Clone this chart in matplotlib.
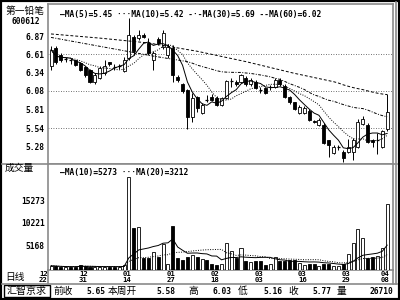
import matplotlib
matplotlib.use("Agg")
import matplotlib.pyplot as plt
import matplotlib.transforms as mtrans
import pandas as pd
from matplotlib.lines import Line2D
from matplotlib.patches import Rectangle

MONO = ['DejaVu Sans Mono', 'Noto Sans CJK SC']
CJK = ['Noto Sans CJK SC', 'DejaVu Sans']
plt.rcParams['font.family'] = MONO

# daily candles, 12/22 .. 04/08
opens = [6.43, 6.69, 6.60, 6.54, 6.53, 6.52, 6.48, 6.42, 6.38, 6.20,
         6.27, 6.33, 6.49, 6.43, 6.43, 6.37, 6.55, 6.85, 6.84, 6.89,
         6.77, 6.53, 6.82, 6.71, 6.59, 6.70, 6.28, 6.17, 6.09, 5.70,
         5.99, 5.76, 5.96, 5.99, 5.98, 5.88, 5.98, 6.21, 6.21, 6.21,
         6.27, 6.17, 6.21, 6.10, 6.12, 6.12, 6.14, 6.24, 6.15, 5.99,
         5.91, 5.76, 5.76, 5.78, 5.64, 5.59, 5.59, 5.36, 5.18, 5.25,
         5.20, 5.20, 5.20, 5.27, 5.60, 5.59, 5.37, 5.36, 5.27, 5.52]
highs = [6.72, 6.72, 6.62, 6.57, 6.55, 6.53, 6.50, 6.44, 6.40, 6.33,
         6.43, 6.53, 6.50, 6.46, 6.47, 6.56, 7.13, 6.88, 6.95, 6.91,
         6.84, 6.65, 6.85, 6.96, 6.75, 6.74, 6.30, 6.19, 6.11, 6.05,
         6.01, 5.90, 6.02, 6.03, 6.00, 5.99, 6.24, 6.27, 6.23, 6.32,
         6.29, 6.26, 6.23, 6.14, 6.14, 6.16, 6.26, 6.27, 6.17, 6.00,
         5.92, 5.87, 5.86, 5.82, 5.65, 5.69, 5.61, 5.37, 5.29, 5.30,
         5.22, 5.38, 5.40, 5.67, 5.72, 5.61, 5.38, 5.47, 5.51, 6.03]
lows = [6.38, 6.46, 6.49, 6.49, 6.47, 6.43, 6.36, 6.28, 6.19, 6.17,
        6.25, 6.30, 6.44, 6.38, 6.39, 6.35, 6.52, 6.60, 6.81, 6.84,
        6.60, 6.38, 6.74, 6.68, 6.55, 6.20, 6.20, 6.05, 5.53, 5.62,
        5.77, 5.74, 5.92, 5.93, 5.86, 5.86, 5.96, 6.14, 6.15, 6.19,
        6.15, 6.15, 6.10, 6.05, 6.03, 6.09, 6.12, 6.15, 5.97, 5.89,
        5.80, 5.74, 5.74, 5.64, 5.61, 5.57, 5.31, 5.12, 5.16, 5.22,
        5.05, 5.18, 5.08, 5.25, 5.58, 5.32, 5.27, 5.16, 5.25, 5.50]
closes = [6.67, 6.49, 6.53, 6.54, 6.52, 6.45, 6.38, 6.30, 6.21, 6.31,
          6.41, 6.43, 6.46, 6.42, 6.44, 6.53, 6.88, 6.66, 6.89, 6.86,
          6.63, 6.63, 6.77, 6.91, 6.71, 6.31, 6.24, 6.07, 5.70, 5.98,
          5.83, 5.88, 5.95, 5.95, 5.88, 5.98, 6.22, 6.22, 6.17, 6.30,
          6.17, 6.24, 6.12, 6.09, 6.05, 6.13, 6.24, 6.17, 5.99, 5.91,
          5.82, 5.85, 5.83, 5.66, 5.62, 5.66, 5.33, 5.30, 5.27, 5.26,
          5.11, 5.27, 5.37, 5.62, 5.67, 5.34, 5.34, 5.37, 5.49, 5.77]
volumes = [830, 700, 550, 550, 550, 600, 1100, 850, 600, 500,
           500, 550, 600, 550, 500, 1000, 20300, 9100, 9450, 2640,
           2640, 3740, 2860, 5600, 1300, 9500, 2640, 2000, 2860, 3100,
           2750, 2300, 2200, 1150, 1000, 1300, 5800, 4100, 2600, 4700,
           1900, 1700, 1800, 1800, 1100, 1250, 2700, 1850, 1850, 2000,
           2000, 1500, 1000, 1300, 1250, 850, 1300, 1300, 700, 700,
           1200, 3500, 5800, 8900, 7000, 2500, 2700, 2900, 4800, 14300]

# MA30 / MA60 before a full window exists
ma30_head_idx = [0, 7, 14, 21, 28]
ma30_head = [6.85, 6.76, 6.67, 6.58, 6.50]
ma60_head_idx = [0, 10, 20, 30, 40, 50, 58]
ma60_head = [6.90, 6.84, 6.77, 6.65, 6.50, 6.33, 6.21]

date_idx = [0, 7, 16, 25, 34, 43, 52, 61, 69]
date_months = ['12', '12', '01', '01', '02', '03', '03', '03', '04']
date_days = ['22', '31', '14', '27', '18', '03', '16', '29', '08']
price_ticks = [6.87, 6.61, 6.34, 6.08, 5.81, 5.54, 5.28]
grid_levels = [6.61, 6.08, 5.54]
vol_ticks = [5168, 10221, 15273]

legend_main = '—MA(5)=5.45 ···MA(10)=5.42 -·-MA(30)=5.69 --MA(60)=6.02'
legend_vol = '—MA(10)=5273 ···MA(20)=3212'
info_names = ['前收', '本周开', '高', '低', '收', '量']
info_values = ['5.65', '5.58', '6.03', '5.16', '5.77', '26710']

W, H = 400, 300


def fx(px):
    return px / W


def fy(py):
    return 1 - py / H


fig = plt.figure(figsize=(4, 3), dpi=100, facecolor='white')
ax = fig.add_axes([fx(48), fy(164), fx(393) - fx(48), fy(4) - fy(164)])
axv = fig.add_axes([fx(48), fy(270), fx(393) - fx(48), fy(164) - fy(270)], sharex=ax)

frame = '#8a8a8a'
for a in (ax, axv):
    for s in a.spines.values():
        s.set_color(frame)
        s.set_linewidth(1.2)
    a.tick_params(length=0, labelsize=5.7, pad=2.5, labelbottom=False)

n = len(closes)
bw = 0.62
for i in range(n):
    o, h, l, c = opens[i], highs[i], lows[i], closes[i]
    ax.vlines(i, l, h, color='black', lw=0.7, zorder=2)
    lo, hi = min(o, c), max(o, c)
    if hi - lo < 0.012:
        ax.hlines(c, i - bw / 2, i + bw / 2, color='black', lw=0.9, zorder=3)
    else:
        ax.add_patch(Rectangle((i - bw / 2, lo), bw, hi - lo,
                               facecolor='white' if c >= o else 'black',
                               edgecolor='black', lw=0.6, zorder=3))

cs = pd.Series(closes)
ma5 = cs.rolling(5, min_periods=1).mean()
ma10 = cs.rolling(10, min_periods=1).mean()
ma30 = cs.rolling(30).mean()
ma60 = cs.rolling(60).mean()
ax.plot(range(n), ma5, color='black', lw=0.7, zorder=4)
ax.plot(range(n), ma10, color='black', lw=0.7, ls=(0, (1, 1.5)), zorder=4)
ax.plot(ma30_head_idx + list(range(29, n)), ma30_head + list(ma30[29:]),
        color='black', lw=0.7, ls=(0, (3, 1.5, 1, 1.5)), zorder=4)
ax.plot(ma60_head_idx + list(range(59, n)), ma60_head + list(ma60[59:]),
        color='black', lw=0.7, ls=(0, (3, 2)), zorder=4)

for lvl in grid_levels:
    ax.axhline(lvl, color='#444444', lw=0.6, ls=(0, (1, 2)), zorder=1)

ax.set_xlim(-0.62, 70.2)
ax.set_ylim(5.02, 7.333)
ax.set_yticks(price_ticks)
ax.set_yticklabels(['%.2f' % t for t in price_ticks], fontweight='bold')

vcol = ['white' if closes[i] >= opens[i] else 'black' for i in range(n)]
axv.bar(range(n), volumes, width=bw, color=vcol, edgecolor='black', lw=0.6, zorder=3)
vs = pd.Series(volumes)
axv.plot(range(n), vs.rolling(10, min_periods=1).mean(), color='black', lw=0.7, zorder=4)
axv.plot(range(n), vs.rolling(20, min_periods=1).mean(), color='black', lw=0.7,
         ls=(0, (1, 1.5)), zorder=4)
axv.set_ylim(-105, 23183)
axv.set_yticks(vol_ticks)
axv.set_yticklabels([str(t) for t in vol_ticks], fontweight='bold')

# date labels under the volume panel, month above day
tr = mtrans.blended_transform_factory(axv.transData, fig.transFigure)
for k, i in enumerate(date_idx):
    xp = i - 0.4 - (1.2 if k == 0 else 0)
    axv.text(xp, fy(273.8), date_months[k], transform=tr, ha='center', va='center',
             fontsize=5.2, fontweight='bold', clip_on=False)
    axv.text(xp, fy(279.6), date_days[k], transform=tr, ha='center', va='center',
             fontsize=5.2, fontweight='bold', clip_on=False)

# legends
fig.text(fx(60), fy(14), legend_main, fontsize=5.7, fontweight='bold', va='center')
fig.text(fx(60), fy(172), legend_vol, fontsize=5.7, fontweight='bold', va='center')

# left column
fig.text(fx(25), fy(11), '第一铅笔', family=CJK, fontsize=7, ha='center', va='center')
fig.text(fx(26), fy(21.5), '600612', fontsize=5.7, fontweight='bold', ha='center', va='center')
fig.text(fx(5), fy(168), '成交量', family=CJK, fontsize=7, va='center')
fig.text(fx(5), fy(277), '日线', family=CJK, fontsize=7, va='center')

# bottom info bar
fig.patches.append(Rectangle((fx(4), fy(297)), fx(50) - fx(4), fy(285) - fy(297),
                             transform=fig.transFigure, fill=False, ec='black', lw=1.0))
fig.text(fx(27), fy(291), '汇智京求', family=CJK, fontsize=7.2, ha='center', va='center')
name_x = [53, 108, 188, 238, 288, 337]
value_x = [105, 175, 232, 282, 331, 393]
for nm, vx, val, vxx in zip(info_names, name_x, info_values, value_x):
    fig.text(fx(vx), fy(291), nm, family=CJK, fontsize=7, va='center')
    fig.text(fx(vxx), fy(291), val, fontsize=5.7, fontweight='bold', ha='right', va='center')

# frame lines
seg = [([2, 48], [164, 164]), ([393, 397], [164, 164]), ([2, 397], [283.5, 283.5]),
       ([48, 48], [270, 283.5]), ([396, 396], [2, 283.5]), ([393, 393], [270, 283.5])]
for xs, ys in seg:
    fig.lines.append(Line2D([fx(v) for v in xs], [fy(v) for v in ys],
                            transform=fig.transFigure, color=frame, lw=1.2))
fig.patches.append(Rectangle((0, 0), 1, 1, transform=fig.transFigure,
                             fill=False, ec='black', lw=3))

fig.savefig('out.png', dpi=100, facecolor='white')
